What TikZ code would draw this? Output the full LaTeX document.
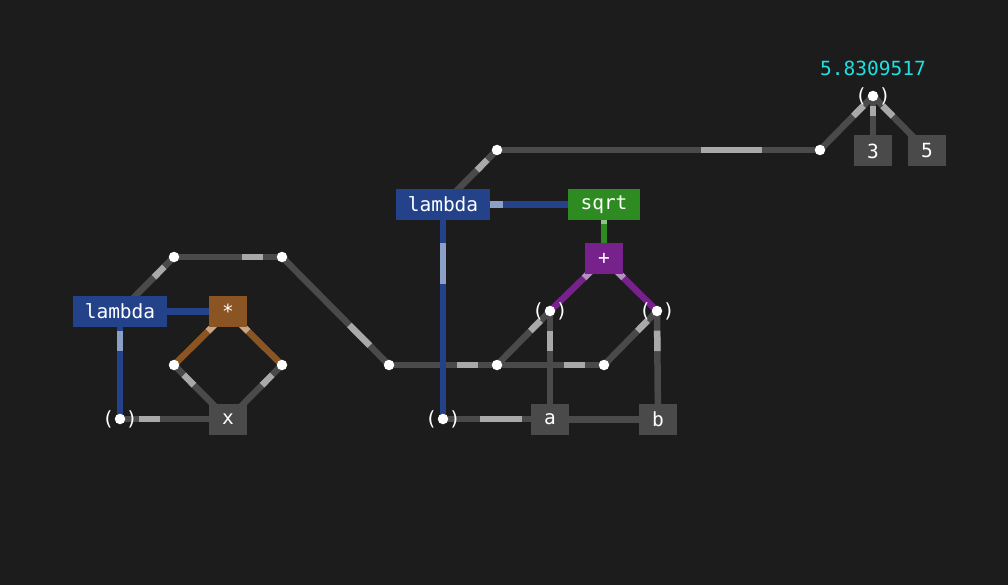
\documentclass[tikz,border=0pt]{standalone}
\usepackage{fontspec}
\setmonofont{DejaVu Sans Mono}
\usetikzlibrary{calc}

\definecolor{bgc}{HTML}{1C1C1C}
\definecolor{wiregrey}{HTML}{4A4A4A}
\definecolor{markgrey}{HTML}{A9A9A9}
\definecolor{lamblue}{HTML}{23428A}
\definecolor{markblue}{HTML}{8C9FC6}
\definecolor{sqrtgreen}{HTML}{2E8B22}
\definecolor{markgreen}{HTML}{90C487}
\definecolor{pluspurple}{HTML}{76218C}
\definecolor{markpurple}{HTML}{B68FC4}
\definecolor{starbrown}{HTML}{8A5522}
\definecolor{markbrown}{HTML}{C8A688}
\definecolor{valcyan}{HTML}{1EE0E0}

\pgfdeclarelayer{back}
\pgfdeclarelayer{wires}
\pgfsetlayers{back,wires,main}

\tikzset{
  box/.style={rectangle,inner sep=0pt,minimum width=38pt,minimum height=31pt,text=white,fill=wiregrey},
  lambox/.style={box,fill=lamblue,minimum width=94pt},
  dot/.style={circle,fill=white,inner sep=0pt,minimum size=10.5pt},
  app/.style={dot,label={[text=white]center:( )}},
  greywire/.style={line width=6.5pt,draw=wiregrey},
  greymark/.style={line width=6.5pt,draw=markgrey},
  bluewire/.style={line width=6.5pt,draw=lamblue},
  bluemark/.style={line width=6.5pt,draw=markblue},
  greenwire/.style={line width=6.5pt,draw=sqrtgreen},
  greenmark/.style={line width=6.5pt,draw=markgreen},
  purplewire/.style={line width=6.5pt,draw=pluspurple},
  purplemark/.style={line width=6.5pt,draw=markpurple},
  brownwire/.style={line width=6.5pt,draw=starbrown},
  brownmark/.style={line width=6.5pt,draw=markbrown}
}

% wire from #2 to #3, light mark near #2
\newcommand\lnk[3][grey]{%
  \draw[#1wire] (#2.center) -- (#3.center);
  \draw[#1mark] ($(#2.center)!0.18!(#3.center)$) -- ($(#2.center)!0.37!(#3.center)$);}

\begin{document}
\begin{tikzpicture}[x=1pt,y=-1pt,font=\ttfamily\fontsize{19.5}{22}\selectfont]
\useasboundingbox (0,0) rectangle (1008,585);
\begin{pgfonlayer}{back}
  \fill[bgc] (0,0) rectangle (1008,585);
\end{pgfonlayer}

% result
\node[text=valcyan] (val) at (873,68) {5.8309517};
\node[app] (apR) at (873,96) {};
\node[box] (three) at (873,151) {3};
\node[box] (five) at (927,151) {5};
\node[dot] (jR) at (820,150) {};
\node[dot] (jL) at (497,150) {};

% outer lambda
\node[lambox] (lamone) at (443,204.5) {lambda};
\node[box,fill=sqrtgreen,minimum width=72pt] (sqrt) at (604,204.5) {sqrt};
\node[box,fill=pluspurple] (plus) at (604,258.5) {+};
\node[app] (apa) at (550,311) {};
\node[app] (apb) at (657,311) {};
\node[dot] (h1) at (389,365) {};
\node[dot] (h2) at (497,365) {};
\node[dot] (h3) at (604,365) {};
\node[app] (apone) at (443,419) {};
\node[box] (a) at (550,419.5) {a};
\node[box] (b) at (658,419.5) {b};

% inner lambda
\node[dot] (u1) at (174,257) {};
\node[dot] (u2) at (282,257) {};
\node[lambox] (lamtwo) at (120,311.5) {lambda};
\node[box,fill=starbrown] (star) at (228,311.5) {*};
\node[dot] (v1) at (174,365) {};
\node[dot] (v2) at (282,365) {};
\node[app] (aptwo) at (120,419) {};
\node[box] (x) at (228,419.5) {x};

\begin{pgfonlayer}{wires}
  \lnk{apR}{jR}
  \lnk{apR}{three}
  \lnk{apR}{five}
  \lnk{jR}{jL}
  \lnk{jL}{lamone}
  \lnk[blue]{lamone}{sqrt}
  \lnk[green]{sqrt}{plus}
  \lnk[purple]{plus}{apa}
  \lnk[purple]{plus}{apb}
  \lnk{apa}{a}
  \lnk{apb}{b}
  \draw[greywire] (a.center) -- (b.center);
  \lnk{h2}{h1}
  \lnk{h3}{h2}
  \lnk{apa}{h2}
  \lnk{apb}{h3}
  \lnk{h1}{u2}
  \lnk{u2}{u1}
  \lnk{u1}{lamtwo}
  \draw[greywire] (apone.center) -- (apone.center -| a.center);
  \draw[greymark] ($(apone.center)!0.35!(apone.center -| a.center)$) -- ($(apone.center)!0.74!(apone.center -| a.center)$);
  \lnk[blue]{lamone}{apone}
  \lnk[blue]{lamtwo}{star}
  \lnk[brown]{star}{v1}
  \lnk[brown]{star}{v2}
  \lnk{v1}{x}
  \lnk{v2}{x}
  \lnk[blue]{lamtwo}{aptwo}
  \draw[greywire] (aptwo.center) -- (aptwo.center -| x.center);
  \draw[greymark] ($(aptwo.center)!0.18!(aptwo.center -| x.center)$) -- ($(aptwo.center)!0.37!(aptwo.center -| x.center)$);
\end{pgfonlayer}
\end{tikzpicture}
\end{document}
